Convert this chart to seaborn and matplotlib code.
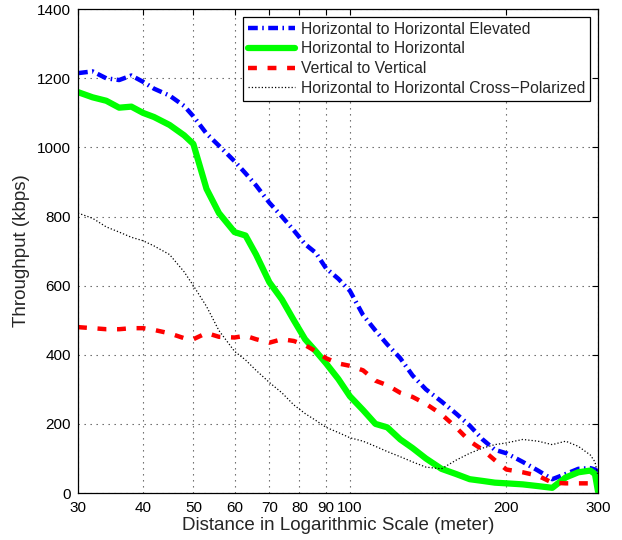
import numpy as np
import pandas as pd
import matplotlib
matplotlib.use('Agg')
import matplotlib.pyplot as plt
import seaborn as sns
from matplotlib.ticker import NullLocator

# distance (meter), shared by all four series
distance = [30, 32, 34, 36, 38, 40, 42, 45, 48, 50, 53, 56, 60, 63, 66, 70, 74, 78,
            82, 86, 90, 95, 100, 106, 112, 118, 125, 132, 140, 150, 160, 170, 180,
            190, 200, 215, 230, 245, 260, 275, 290, 296, 300]

# throughput (kbps)
h2h_elevated = [1215, 1220, 1200, 1195, 1208, 1190, 1170, 1150, 1120, 1090, 1040, 1005,
                960, 925, 890, 840, 800, 760, 720, 695, 650, 620, 585, 515, 470, 430,
                390, 340, 300, 265, 230, 195, 155, 125, 115, 90, 65, 40, 55, 70, 72,
                68, 62]
h2h = [1160, 1145, 1135, 1115, 1118, 1100, 1088, 1065, 1035, 1010, 880, 810, 755, 745,
       690, 610, 560, 500, 445, 410, 375, 330, 280, 240, 200, 190, 155, 130, 100, 70,
       55, 40, 35, 30, 28, 25, 20, 15, 45, 60, 65, 55, 5]
v2v = [480, 477, 474, 474, 477, 477, 472, 462, 448, 445, 463, 452, 450, 455, 445, 435,
       445, 440, 428, 410, 390, 375, 368, 355, 325, 312, 290, 278, 258, 228, 190, 150,
       125, 95, 68, 60, 50, 30, 28, 28, 28, 28, 28]
h2h_cross = [810, 795, 770, 755, 740, 730, 715, 690, 640, 600, 540, 470, 410, 385, 355,
             320, 290, 255, 230, 210, 190, 175, 160, 150, 135, 120, 105, 90, 75, 70, 95,
             115, 130, 140, 145, 155, 150, 140, 150, 135, 110, 90, 50]

labels = ['Horizontal to Horizontal Elevated', 'Horizontal to Horizontal',
          'Vertical to Vertical', 'Horizontal to Horizontal Cross\u2212Polarized']

df = pd.DataFrame({'distance': distance, 'elev': h2h_elevated, 'hh': h2h,
                   'vv': v2v, 'cross': h2h_cross})

sns.set_style('white')
plt.rcParams['font.family'] = ['Liberation Sans', 'DejaVu Sans']

fig = plt.figure(figsize=(6.22, 5.40), dpi=100)
ax = fig.add_axes([0.1254, 0.087, 0.836, 0.896])

sns.lineplot(x='distance', y='elev', data=df, ax=ax, color='#0000ff', linewidth=3.2,
             label=labels[0], sort=False)
ax.lines[-1].set_dashes([2.2, 1.0, 0.35, 1.0])
sns.lineplot(x='distance', y='hh', data=df, ax=ax, color='#00ff00', linewidth=4.5,
             label=labels[1], sort=False)
sns.lineplot(x='distance', y='vv', data=df, ax=ax, color='#ff0000', linewidth=3.2,
             label=labels[2], sort=False)
ax.lines[-1].set_dashes([2.0, 2.4])
sns.lineplot(x='distance', y='cross', data=df, ax=ax, color='black', linewidth=0.9,
             label=labels[3], sort=False)
ax.lines[-1].set_linestyle(':')

ax.set_xscale('log')
ax.set_xlim(30, 300)
ax.set_ylim(0, 1400)
xt = [30, 40, 50, 60, 70, 80, 90, 100, 200, 300]
ax.set_xticks(xt)
ax.set_xticklabels([str(v) for v in xt])
ax.xaxis.set_minor_locator(NullLocator())
ax.set_yticks(range(0, 1401, 200))
ax.tick_params(direction='in', top=True, right=True, length=4, width=0.8,
               labelsize=11, colors='black')
ax.tick_params(axis='x', pad=6)
ax.tick_params(axis='y', pad=5)
ax.grid(True, which='major', linestyle=(0, (1.2, 4.2)), color='0.35', linewidth=0.8)
for s in ax.spines.values():
    s.set_color('black')
    s.set_linewidth(0.9)

ax.set_xlabel('Distance in Logarithmic Scale (meter)', fontsize=13.5, labelpad=1)
ax.set_ylabel('Throughput (kbps)', fontsize=13.5, labelpad=5)

leg = ax.legend(loc='upper right', fontsize=11.3, handlelength=3.0, labelspacing=0.3,
                borderaxespad=0.5, fancybox=False, framealpha=1, edgecolor='black',
                borderpad=0.3, handletextpad=0.4)
leg.get_frame().set_linewidth(0.9)

plt.savefig('out.png', dpi=100)
